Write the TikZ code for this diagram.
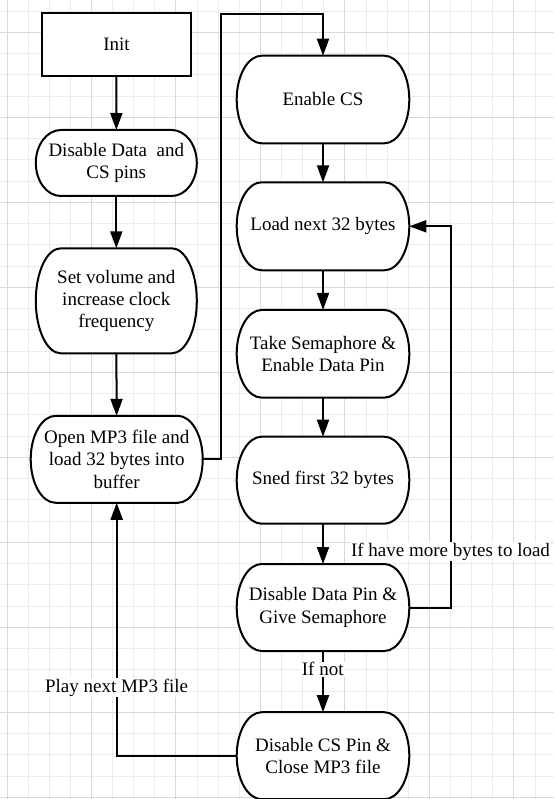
\documentclass[tikz,border=0pt]{standalone}
\usepackage{fontspec}
\setmainfont{Liberation Serif}
\usetikzlibrary{arrows.meta,calc}

\pgfdeclarelayer{gridlayer}
\pgfdeclarelayer{framelayer}
\pgfsetlayers{gridlayer,framelayer,main}

\tikzset{
	txt/.style={font=\fontsize{19}{22.3}\selectfont},
	term/.style={txt, align=center, inner sep=0pt, outer sep=1pt},
	frameline/.style={line width=2pt, fill=white},
	initbox/.style={txt, draw, line width=2pt, fill=white, inner sep=0pt},
	flow/.style={line width=2pt, -{Triangle[length=17pt,width=12pt]}},
	lbl/.style={txt, fill=white, inner sep=1pt},
	minorgrid/.style={line width=1pt, color=black!8},
	majorgrid/.style={line width=1pt, color=black!15}
}

% stadium outline with elliptic ends round a term node
\newcommand\termframe[2][25pt]{%
	\draw[frameline] let \p1=(#2.north west), \p2=(#2.south east), \n1={0.5*(\y1-\y2)} in
		($(\x1,\y1)+(#1,0pt)$) -- ($(\x2,\y1)-(#1,0pt)$)
		arc[start angle=90, end angle=-90, x radius=#1, y radius=\n1*1pt]
		-- ($(\x1,\y2)+(#1,0pt)$)
		arc[start angle=270, end angle=90, x radius=#1, y radius=\n1*1pt] -- cycle;}

\begin{document}
\begin{tikzpicture}[x=1pt, y=-1pt]
		%%%%% START %%%%%
		\useasboundingbox (0, 0) rectangle (554, 799);
		
		% background grid
		\begin{pgfonlayer}{gridlayer}
		\fill[white] (0, 0) rectangle (554, 799);
		\foreach \k [evaluate=\k as \gx using 7+21.12*\k] in {0,...,25}
			\draw[minorgrid] (\gx, 0) -- (\gx, 799);
		\foreach \k [evaluate=\k as \gy using 797.3-21.25*\k] in {0,...,37}
			\draw[minorgrid] (0, \gy) -- (554, \gy);
		\foreach \k [evaluate=\k as \gx using 7+84.48*\k] in {0,...,6}
			\draw[majorgrid] (\gx, 0) -- (\gx, 799);
		\foreach \k [evaluate=\k as \gy using 797.3-85*\k] in {0,...,9}
			\draw[majorgrid] (0, \gy) -- (554, \gy);
		\end{pgfonlayer}
		
		% left column
		\node[initbox, minimum width=149pt, minimum height=63pt] (init) at (116.5, 44.5) {Init};
		\node[term, minimum width=159pt, minimum height=64pt] (discs) at (116.3, 163) {Disable Data\ \ and\\CS pins};
		\node[term, minimum width=159pt, minimum height=103pt] (volume) at (116.3, 300.8) {Set volume and\\increase clock\\frequency};
		\node[term, minimum width=170pt, minimum height=85pt] (openmp) at (116.7, 459.3) {Open MP3 file and\\load 32 bytes into\\buffer};
		
		% right column
		\node[term, minimum width=170.6pt, minimum height=85.6pt] (enablecs) at (323, 99.5) {Enable CS};
		\node[term, minimum width=170.6pt, minimum height=86pt] (loadnext) at (323, 226.3) {Load next 32 bytes};
		\node[term, minimum width=170.6pt, minimum height=85.7pt] (takesem) at (323, 353.8) {Take Semaphore \&\\Enable Data Pin};
		\node[term, minimum width=170.6pt, minimum height=85pt] (sendfirst) at (323, 480.2) {Sned first 32 bytes};
		\node[term, minimum width=170.6pt, minimum height=85pt] (givesem) at (323, 607.5) {Disable Data Pin \&\\Give Semaphore};
		\node[term, minimum width=170.6pt, minimum height=85pt] (closemp) at (323, 755.7) {Disable CS Pin \&\\Close MP3 file};
		
		\begin{pgfonlayer}{framelayer}
		\foreach \nd in {discs,volume,openmp,enablecs,loadnext,takesem,sendfirst,givesem,closemp}
			\termframe{\nd};
		\end{pgfonlayer}
		
		\coordinate (topleft) at (220.7, 14);
		\coordinate (loopright) at (450.7, 226.3);
		
		% connectors
		\draw[flow] (init) -- (discs);
		\draw[flow] (discs) -- (volume);
		\draw[flow] (volume) -- (openmp);
		\draw[flow] (openmp.east) -| (topleft) -| (enablecs.north);
		
		\draw[flow] (enablecs) -- (loadnext);
		\draw[flow] (loadnext) -- (takesem);
		\draw[flow] (takesem) -- (sendfirst);
		\draw[flow] (sendfirst) -- (givesem);
		\draw[flow] (givesem.east) -| (loopright) -- (loadnext.east);
		\draw[flow] (givesem) -- (closemp);
		\draw[flow] (closemp.west) -| (openmp.south);
		
		% labels
		\node[lbl] (morebytes) at (450.5, 551.7) {If have more bytes to load};
		\node[lbl] (ifnot) at (322.7, 669.3) {If not};
		\node[lbl] (playnext) at (116.6, 687.7) {Play next MP3 file};
		
		%%%%% END %%%%%
	\end{tikzpicture}
\end{document}
